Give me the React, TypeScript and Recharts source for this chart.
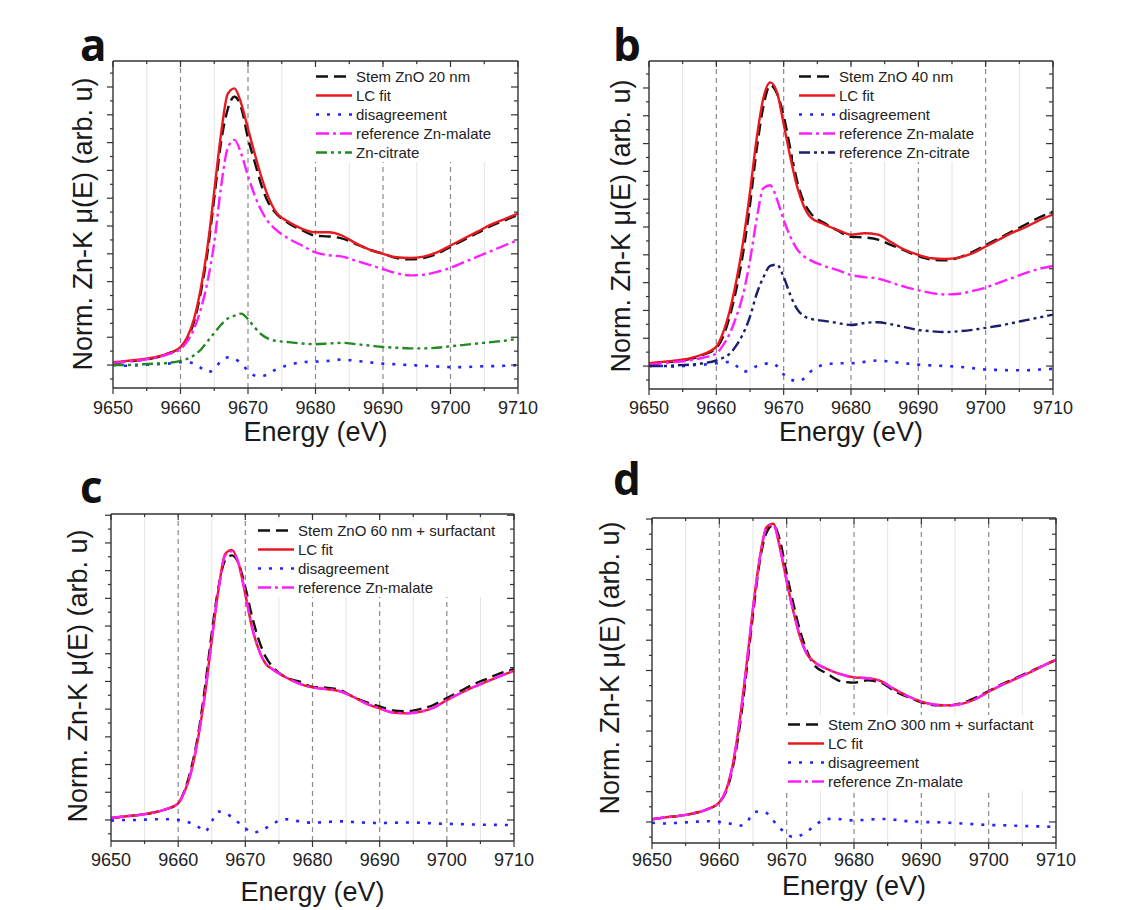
import React from 'react';
import { LineChart, Line, XAxis, YAxis, ReferenceLine, Legend } from 'recharts';

// ---------- data ----------
const energies = [9650, 9652, 9654, 9656, 9658, 9660, 9661, 9662, 9663, 9664, 9665, 9666, 9667, 9668, 9669, 9670, 9671, 9672, 9673, 9674, 9676, 9678, 9680, 9682, 9684, 9686, 9688, 9690, 9692, 9694, 9696, 9698, 9700, 9702, 9704, 9706, 9708, 9710];

const aStem = [0.012, 0.025, 0.035, 0.05, 0.08, 0.13, 0.19, 0.31, 0.52, 0.81, 1.2, 1.6, 1.84, 1.93, 1.85, 1.63, 1.46, 1.29, 1.17, 1.1, 1.02, 0.97, 0.93, 0.925, 0.91, 0.87, 0.83, 0.8, 0.77, 0.76, 0.77, 0.8, 0.85, 0.9, 0.95, 1.0, 1.04, 1.08];
const aFit = [0.02, 0.03, 0.04, 0.055, 0.08, 0.13, 0.2, 0.33, 0.55, 0.85, 1.25, 1.66, 1.95, 1.99, 1.88, 1.7, 1.52, 1.35, 1.21, 1.11, 1.03, 0.98, 0.955, 0.955, 0.93, 0.875, 0.83, 0.8, 0.775, 0.77, 0.78, 0.81, 0.86, 0.91, 0.96, 1.01, 1.05, 1.09];
const aDiff = [0.0, -0.005, 0.0, 0.005, 0.01, 0.02, 0.02, 0.01, -0.02, -0.05, -0.03, 0.03, 0.055, 0.045, 0.01, -0.04, -0.075, -0.08, -0.065, -0.035, 0.0, 0.02, 0.025, 0.03, 0.04, 0.03, 0.02, 0.01, 0.005, 0.0, -0.005, -0.01, -0.015, -0.015, -0.01, -0.008, -0.005, 0.0];
const aMalate = [0.015, 0.025, 0.035, 0.05, 0.075, 0.115, 0.17, 0.26, 0.4, 0.6, 0.88, 1.28, 1.56, 1.62, 1.52, 1.36, 1.22, 1.11, 1.03, 0.98, 0.91, 0.86, 0.81, 0.79, 0.78, 0.75, 0.72, 0.69, 0.66, 0.645, 0.65, 0.67, 0.7, 0.74, 0.78, 0.82, 0.86, 0.9];
const aCitrate = [0.0, 0.0, 0.005, 0.01, 0.015, 0.03, 0.045, 0.07, 0.11, 0.17, 0.23, 0.29, 0.335, 0.355, 0.37, 0.33, 0.27, 0.22, 0.19, 0.175, 0.165, 0.155, 0.15, 0.155, 0.16, 0.15, 0.14, 0.13, 0.125, 0.12, 0.12, 0.125, 0.135, 0.145, 0.155, 0.165, 0.175, 0.19];

const bStem = [0.015, 0.025, 0.035, 0.05, 0.08, 0.13, 0.21, 0.36, 0.56, 0.82, 1.16, 1.56, 1.87, 2.02, 1.96, 1.8, 1.56, 1.33, 1.18, 1.1, 1.03, 0.975, 0.93, 0.925, 0.91, 0.87, 0.83, 0.79, 0.765, 0.76, 0.78, 0.82, 0.87, 0.92, 0.97, 1.02, 1.07, 1.11];
const bFit = [0.02, 0.03, 0.04, 0.055, 0.085, 0.14, 0.24, 0.4, 0.62, 0.9, 1.25, 1.64, 1.93, 2.04, 1.97, 1.74, 1.5, 1.29, 1.15, 1.07, 1.02, 0.98, 0.945, 0.955, 0.945, 0.89, 0.835, 0.8, 0.775, 0.77, 0.78, 0.81, 0.86, 0.91, 0.96, 1.0, 1.05, 1.09];
const bDiff = [0.0, 0.0, -0.005, 0.005, 0.01, 0.02, 0.025, 0.03, 0.0, -0.04, -0.03, 0.0, 0.015, 0.02, 0.0, -0.06, -0.095, -0.11, -0.09, -0.04, 0.01, 0.02, 0.02, 0.03, 0.04, 0.03, 0.02, 0.01, 0.005, 0.0, -0.005, -0.015, -0.025, -0.028, -0.03, -0.03, -0.025, -0.02];
const bMalate = [0.01, 0.02, 0.03, 0.04, 0.06, 0.09, 0.15, 0.235, 0.36, 0.52, 0.76, 1.06, 1.28, 1.3, 1.2, 1.05, 0.93, 0.84, 0.79, 0.76, 0.72, 0.69, 0.655, 0.64, 0.63, 0.6, 0.57, 0.545, 0.525, 0.515, 0.52, 0.54, 0.565, 0.6, 0.635, 0.67, 0.7, 0.72];
const bCitrate = [0.0, 0.0, 0.005, 0.01, 0.02, 0.04, 0.06, 0.09, 0.15, 0.235, 0.355, 0.52, 0.64, 0.72, 0.73, 0.64, 0.51, 0.41, 0.36, 0.34, 0.325, 0.31, 0.295, 0.31, 0.315, 0.3, 0.28, 0.26, 0.25, 0.245, 0.25, 0.26, 0.275, 0.29, 0.31, 0.33, 0.35, 0.37];

const cStem = [0.012, 0.025, 0.035, 0.05, 0.075, 0.12, 0.22, 0.385, 0.625, 0.96, 1.35, 1.68, 1.875, 1.91, 1.85, 1.68, 1.47, 1.3, 1.18, 1.11, 1.03, 1.0, 0.96, 0.955, 0.94, 0.89, 0.85, 0.82, 0.79, 0.785, 0.8, 0.83, 0.88, 0.93, 0.98, 1.02, 1.06, 1.09];
const cFit = [0.015, 0.025, 0.035, 0.05, 0.075, 0.12, 0.21, 0.36, 0.6, 0.91, 1.3, 1.66, 1.92, 1.95, 1.85, 1.63, 1.39, 1.23, 1.13, 1.09, 1.03, 0.985, 0.957, 0.945, 0.93, 0.89, 0.84, 0.805, 0.775, 0.77, 0.78, 0.81, 0.865, 0.915, 0.96, 1.0, 1.04, 1.077];
const cDiff = [-0.005, 0.0, 0.0, 0.005, 0.005, 0.0, -0.01, -0.025, -0.05, -0.085, -0.01, 0.06, 0.05, 0.02, -0.02, -0.06, -0.09, -0.085, -0.06, -0.03, 0.005, -0.01, -0.02, -0.015, -0.01, -0.015, -0.02, -0.022, -0.02, -0.018, -0.02, -0.025, -0.028, -0.03, -0.033, -0.035, -0.036, -0.036];
const cMalate = [0.015, 0.025, 0.035, 0.05, 0.075, 0.12, 0.21, 0.36, 0.6, 0.91, 1.3, 1.66, 1.91, 1.94, 1.85, 1.63, 1.39, 1.23, 1.13, 1.09, 1.03, 0.985, 0.957, 0.945, 0.93, 0.89, 0.84, 0.805, 0.775, 0.77, 0.78, 0.81, 0.865, 0.915, 0.96, 1.0, 1.04, 1.077];

const dStem = [0.018, 0.03, 0.04, 0.055, 0.08, 0.13, 0.2, 0.36, 0.62, 0.98, 1.37, 1.72, 1.91, 1.96, 1.86, 1.64, 1.44, 1.26, 1.13, 1.04, 0.98, 0.93, 0.92, 0.935, 0.92, 0.865, 0.825, 0.79, 0.77, 0.77, 0.785, 0.82, 0.865, 0.91, 0.95, 0.99, 1.03, 1.07];
const dFit = [0.018, 0.03, 0.04, 0.055, 0.08, 0.13, 0.21, 0.38, 0.66, 1.02, 1.41, 1.74, 1.945, 1.97, 1.81, 1.59, 1.39, 1.22, 1.11, 1.06, 1.01, 0.976, 0.955, 0.95, 0.93, 0.877, 0.83, 0.795, 0.775, 0.77, 0.78, 0.81, 0.86, 0.905, 0.945, 0.985, 1.03, 1.07];
const dDiff = [-0.005, -0.01, -0.005, 0.0, 0.005, 0.0, -0.005, -0.015, -0.025, -0.01, 0.06, 0.07, 0.06, 0.01, -0.04, -0.08, -0.1, -0.09, -0.065, -0.03, 0.02, 0.018, 0.01, 0.015, 0.02, 0.015, 0.005, 0.0, -0.002, -0.005, -0.01, -0.015, -0.02, -0.022, -0.025, -0.028, -0.03, -0.033];
const dMalate = [0.018, 0.03, 0.04, 0.055, 0.08, 0.13, 0.21, 0.38, 0.66, 1.02, 1.41, 1.74, 1.94, 1.965, 1.81, 1.59, 1.39, 1.22, 1.11, 1.06, 1.01, 0.976, 0.955, 0.95, 0.93, 0.877, 0.83, 0.795, 0.775, 0.77, 0.78, 0.81, 0.86, 0.905, 0.945, 0.985, 1.03, 1.07];

const xTicks = [9650, 9655, 9660, 9665, 9670, 9675, 9680, 9685, 9690, 9695, 9700, 9705, 9710];
const majorGrid = [9660, 9670, 9680, 9690, 9700];
const minorGrid = [9655, 9665, 9675, 9685, 9695, 9705];

// ---------- styles ----------
const FONT = '"Liberation Sans", Arial, Helvetica, sans-serif';
const AXIS = '#333';
const C_STEM = '#111111';
const C_FIT = '#e8181e';
const C_DIFF = '#2424ff';
const C_MAL = '#ff1eff';
const C_CIT = '#238a23';
const C_CIT_B = '#1a1f6b';

type S = { key: string; name: string; values: number[]; color: string; dash?: string; width: number };

const stemS = (name: string, v: number[]): S => ({ key: 'stem', name, values: v, color: C_STEM, dash: '12 6', width: 2.4 });
const fitS = (v: number[]): S => ({ key: 'fit', name: 'LC fit', values: v, color: C_FIT, width: 2.4 });
const diffS = (v: number[]): S => ({ key: 'diff', name: 'disagreement', values: v, color: C_DIFF, dash: '3 8', width: 2.6 });
const malS = (v: number[]): S => ({ key: 'mal', name: 'reference Zn-malate', values: v, color: C_MAL, dash: '13 4 3 4', width: 2.4 });

type Panel = {
  letter: string; left: number; top: number; w: number; h: number;
  x0: number; y0: number; x1: number; y1: number; domain: [number, number];
  series: S[];
  leg: { x: number; y: number; w: number; rowH: number; padL: number; sampleW: number; gap: number };
  yLab: { cx: number; cy: number };
  xLabBase: number;
  tickOff: number;
  letterPos: { x: number; y: number };
};

const panels: Panel[] = [
  {
    letter: 'a', left: 0, top: 0, w: 560, h: 455, x0: 113, y0: 61, x1: 518, y1: 388, domain: [-0.165, 2.187],
    series: [stemS('Stem ZnO 20 nm', aStem), fitS(aFit), diffS(aDiff), malS(aMalate),
      { key: 'cit', name: 'Zn-citrate', values: aCitrate, color: C_CIT, dash: '11 4 3 4 3 4', width: 2.4 }],
    leg: { x: 310, y: 67, w: 195, rowH: 19, padL: 6, sampleW: 36, gap: 4 },
    yLab: { cx: 83, cy: 224 }, xLabBase: 441, tickOff: 26, letterPos: { x: 80, y: 61 },
  },
  {
    letter: 'b', left: 560, top: 0, w: 565, h: 455, x0: 649, y0: 61, x1: 1053, y1: 389, domain: [-0.165, 2.194],
    series: [stemS('Stem ZnO 40 nm', bStem), fitS(bFit), diffS(bDiff), malS(bMalate),
      { key: 'cit', name: 'reference Zn-citrate', values: bCitrate, color: C_CIT_B, dash: '11 4 3 4 3 4', width: 2.4 }],
    leg: { x: 793, y: 67, w: 188, rowH: 19, padL: 6, sampleW: 36, gap: 4 },
    yLab: { cx: 621, cy: 226 }, xLabBase: 441, tickOff: 25, letterPos: { x: 613, y: 61 },
  },
  {
    letter: 'c', left: 0, top: 455, w: 560, h: 455, x0: 111, y0: 514, x1: 514, y1: 841, domain: [-0.152, 2.209],
    series: [stemS('Stem ZnO 60 nm + surfactant', cStem), fitS(cFit), diffS(cDiff), malS(cMalate)],
    leg: { x: 252, y: 521, w: 258, rowH: 19, padL: 6, sampleW: 36, gap: 4 },
    yLab: { cx: 78, cy: 676 }, xLabBase: 901, tickOff: 25, letterPos: { x: 80, y: 503 },
  },
  {
    letter: 'd', left: 560, top: 455, w: 565, h: 455, x0: 652, y0: 518, x1: 1056, y1: 843, domain: [-0.139, 2.007],
    series: [stemS('Stem ZnO 300 nm + surfactant', dStem), fitS(dFit), diffS(dDiff), malS(dMalate)],
    leg: { x: 782, y: 715, w: 262, rowH: 19, padL: 6, sampleW: 36, gap: 4 },
    yLab: { cx: 610, cy: 668 }, xLabBase: 895, tickOff: 23, letterPos: { x: 613, y: 495 },
  },
];

const tickLine = (x1: number, y1: number, x2: number, y2: number) => (
  <line x1={x1} y1={y1} x2={x2} y2={y2} stroke={AXIS} strokeWidth={1.2} />
);

const isMajorX = (v: number) => v % 10 === 0;
const isMajorY = (v: number) => Math.round(v * 10) % 2 === 0;

const makeXTickBottom = (off: number) => (props: any) => {
  const { x, y, payload } = props;
  const v = payload.value;
  const major = isMajorX(v);
  return (
    <g>
      {tickLine(x, y, x, y + (major ? 6 : 3))}
      {major && (
        <text x={x} y={y + off} textAnchor="middle" fontSize={18} fontFamily={FONT} fill="#222">{v}</text>
      )}
    </g>
  );
};
const XTickTop = (props: any) => {
  const { x, y, payload } = props;
  const major = isMajorX(payload.value);
  return tickLine(x, y, x, y + (major ? 6 : 3));
};
const YTickLeft = (props: any) => {
  const { x, y, payload } = props;
  const major = isMajorY(payload.value);
  return tickLine(x, y, x - (major ? 6 : 3), y);
};
const YTickRight = (props: any) => {
  const { x, y, payload } = props;
  const major = isMajorY(payload.value);
  return tickLine(x, y, x - (major ? 7 : 4), y);
};

const LegendBox = ({ p }: { p: Panel }) => (
  <div style={{ background: '#fff', paddingLeft: p.leg.padL, fontFamily: FONT, fontSize: 15, color: '#222' }}>
    {p.series.map((s) => (
      <div key={s.key} style={{ display: 'flex', alignItems: 'center', height: p.leg.rowH, whiteSpace: 'nowrap' }}>
        <svg width={p.leg.sampleW} height={p.leg.rowH} style={{ flex: 'none', display: 'block' }}>
          <line x1={0} x2={p.leg.sampleW} y1={p.leg.rowH / 2} y2={p.leg.rowH / 2} stroke={s.color}
            strokeWidth={s.width} strokeDasharray={s.dash} />
        </svg>
        <span style={{ marginLeft: p.leg.gap, lineHeight: `${p.leg.rowH}px` }}>{s.name}</span>
      </div>
    ))}
  </div>
);

const AX = 1; // axis band size (px)

const PanelChart = ({ p }: { p: Panel }) => {
  const data = energies.map((e, i) => {
    const row: any = { e };
    p.series.forEach((s) => { row[s.key] = s.values[i]; });
    return row;
  });
  const yTicks: number[] = [];
  for (let i = -2; i <= 23; i++) {
    const v = i / 10;
    if (v >= p.domain[0] && v <= p.domain[1]) yTicks.push(v);
  }
  const margin = {
    left: p.x0 - p.left - AX, top: p.y0 - p.top - AX,
    right: p.left + p.w - p.x1 - AX, bottom: p.top + p.h - p.y1 - AX,
  };
  const lx = (p.x0 + p.x1) / 2 - p.left;
  const yLabX = p.yLab.cx - p.left;
  const yLabY = p.yLab.cy - p.top;
  const XTickBottom = makeXTickBottom(p.tickOff);
  return (
    <div style={{ position: 'absolute', left: p.left, top: p.top, width: p.w, height: p.h }}>
      <LineChart width={p.w} height={p.h} data={data} margin={margin}>
        <XAxis xAxisId="b" dataKey="e" type="number" domain={[9650, 9710]} ticks={xTicks} interval={0}
          allowDataOverflow height={AX} tickSize={0} tickMargin={0} tickLine={false} tick={<XTickBottom />}
          axisLine={{ stroke: AXIS, strokeWidth: 1.4 }}
          label={{ content: () => (
            <text x={lx} y={p.xLabBase - p.top} textAnchor="middle" fontSize={27} fontFamily={FONT} fill="#1a1a1a">Energy (eV)</text>
          ) }} />
        <XAxis xAxisId="t" orientation="top" dataKey="e" type="number" domain={[9650, 9710]} ticks={xTicks} interval={0}
          allowDataOverflow height={AX} tickSize={0} tickMargin={0} tickLine={false} tick={<XTickTop />}
          axisLine={{ stroke: AXIS, strokeWidth: 1.4 }} />
        <YAxis yAxisId="l" type="number" domain={p.domain} ticks={yTicks} interval={0} allowDataOverflow width={AX}
          tickSize={0} tickMargin={0} tickLine={false} tick={<YTickLeft />} axisLine={{ stroke: AXIS, strokeWidth: 1.4 }}
          label={{ content: () => (
            <text x={yLabX} y={yLabY} transform={`rotate(-90 ${yLabX} ${yLabY})`} textAnchor="middle"
              dominantBaseline="central" fontSize={27} fontFamily={FONT} fill="#1a1a1a">Norm. Zn-K μ(E) (arb. u)</text>
          ) }} />
        <YAxis yAxisId="r" orientation="right" type="number" domain={p.domain} ticks={yTicks} interval={0}
          allowDataOverflow width={AX} tickSize={0} tickMargin={0} tickLine={false} tick={<YTickRight />}
          axisLine={{ stroke: AXIS, strokeWidth: 1.4 }} />
        {minorGrid.map((g) => (
          <ReferenceLine key={'m' + g} x={g} xAxisId="b" yAxisId="l" stroke="#e4e4e4" strokeWidth={1} />
        ))}
        {majorGrid.map((g) => (
          <ReferenceLine key={'M' + g} x={g} xAxisId="b" yAxisId="l" stroke="#8a8a8a" strokeWidth={1.2} strokeDasharray="5 4" />
        ))}
        {p.series.map((s) => (
          <Line key={s.key} xAxisId="b" yAxisId="l" dataKey={s.key} type="monotone" stroke={s.color}
            strokeWidth={s.width} strokeDasharray={s.dash} dot={false} activeDot={false} isAnimationActive={false} />
        ))}
        <Legend layout="horizontal" verticalAlign="middle" align="center"
          wrapperStyle={{ left: p.leg.x - p.left, top: p.leg.y - p.top, width: p.leg.w, height: p.series.length * p.leg.rowH + 2 }}
          content={() => <LegendBox p={p} />} />
      </LineChart>
    </div>
  );
};

export default function App() {
  return (
    <div style={{ position: 'absolute', left: 0, top: 0, width: 1125, height: 910, background: '#fff', overflow: 'hidden' }}>
      {panels.map((p) => <PanelChart key={p.letter} p={p} />)}
      <svg width={1125} height={910} style={{ position: 'absolute', left: 0, top: 0, pointerEvents: 'none' }}>
        {panels.map((p) => (
          <text key={p.letter} x={p.letterPos.x} y={p.letterPos.y} fontSize={44} fontWeight={700}
            fontFamily='"Open Sans", "DejaVu Sans", sans-serif' fill="#111">{p.letter}</text>
        ))}
      </svg>
    </div>
  );
}
